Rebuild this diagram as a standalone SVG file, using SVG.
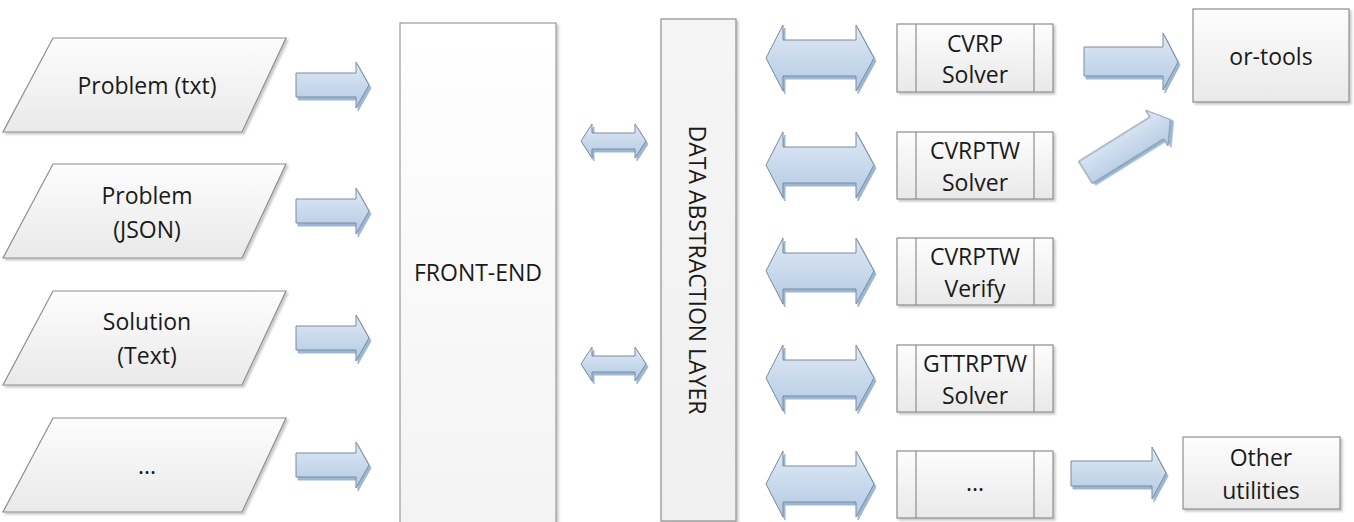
<svg xmlns="http://www.w3.org/2000/svg" width="1354" height="522" viewBox="0 0 1354 522">
<defs>
<linearGradient id="gBox" x1="0" y1="0" x2="0" y2="1">
<stop offset="0" stop-color="#fdfdfd"/><stop offset="1" stop-color="#e9e9e9"/>
</linearGradient>
<linearGradient id="gTall" x1="0" y1="0" x2="0" y2="1">
<stop offset="0" stop-color="#ffffff"/><stop offset="1" stop-color="#f3f3f3"/>
</linearGradient>
<linearGradient id="gDal" x1="0" y1="0" x2="0" y2="1">
<stop offset="0" stop-color="#f5f5f5"/><stop offset="1" stop-color="#f0f0f0"/>
</linearGradient>
<linearGradient id="gArrow" x1="0" y1="0" x2="0" y2="1">
<stop offset="0" stop-color="#dfe9f5"/><stop offset="1" stop-color="#b3cae3"/>
</linearGradient>
<filter id="shBox" x="-10%" y="-10%" width="130%" height="130%">
<feDropShadow dx="2" dy="2" stdDeviation="1.2" flood-color="#000" flood-opacity="0.22"/>
</filter>
<filter id="shArrow" x="-20%" y="-30%" width="150%" height="170%">
<feDropShadow dx="2" dy="3" stdDeviation="0.6" flood-color="#8fb0d2" flood-opacity="0.9"/>
</filter>
</defs>
<style>
.box{fill:url(#gBox);stroke:#8e8e8e;stroke-width:1.2;filter:url(#shBox)}
.tall{fill:url(#gTall);stroke:#9a9a9a;stroke-width:1.2;filter:url(#shBox)}
.dal{fill:url(#gDal);stroke:#8e8e8e;stroke-width:1.2;filter:url(#shBox)}
.div{stroke:#8e8e8e;stroke-width:1.2}
.arr{fill:url(#gArrow);stroke:#7d8a99;stroke-width:1;filter:url(#shArrow)}
text{font-family:"Open Sans","Liberation Sans",sans-serif;font-size:23px;fill:#1a1a1a;text-anchor:middle;dominant-baseline:central}
</style>
<rect width="1354" height="522" fill="#ffffff"/>

<g id="in-txt"><polygon class="box" points="53,38 286,38 242,132 3,132"/><text x="147" y="85">Problem (txt)</text></g>
<g id="in-json"><polygon class="box" points="53,164 286,164 242,258 3,258"/><text x="147" y="195">Problem</text><text x="147" y="229">(JSON)</text></g>
<g id="in-sol"><polygon class="box" points="53,291 286,291 242,385 3,385"/><text x="147" y="321">Solution</text><text x="147" y="355">(Text)</text></g>
<g id="in-more"><polygon class="box" points="53,418 286,418 242,512 3,512"/><text x="147" y="465">...</text></g>

<g id="front-end"><rect class="tall" x="400" y="23" width="156" height="510"/><text x="478" y="272" font-size="21">FRONT-END</text></g>
<g id="dal"><rect class="dal" x="661" y="19" width="75" height="502"/><text transform="translate(698,270) rotate(90)" font-size="22">DATA ABSTRACTION LAYER</text></g>

<g id="cvrp"><rect class="box" x="897" y="24" width="156" height="68"/><line class="div" x1="916" y1="24" x2="916" y2="92"/><line class="div" x1="1034" y1="24" x2="1034" y2="92"/><text x="975" y="43">CVRP</text><text x="975" y="74">Solver</text></g>
<g id="cvrptw"><rect class="box" x="897" y="132" width="156" height="67"/><line class="div" x1="916" y1="132" x2="916" y2="199"/><line class="div" x1="1034" y1="132" x2="1034" y2="199"/><text x="975" y="150">CVRPTW</text><text x="975" y="182">Solver</text></g>
<g id="verify"><rect class="box" x="897" y="238" width="156" height="67"/><line class="div" x1="916" y1="238" x2="916" y2="305"/><line class="div" x1="1034" y1="238" x2="1034" y2="305"/><text x="975" y="256">CVRPTW</text><text x="975" y="288">Verify</text></g>
<g id="gttrptw"><rect class="box" x="897" y="345" width="156" height="67"/><line class="div" x1="916" y1="345" x2="916" y2="412"/><line class="div" x1="1034" y1="345" x2="1034" y2="412"/><text x="975" y="363">GTTRPTW</text><text x="975" y="395">Solver</text></g>
<g id="more-solver"><rect class="box" x="897" y="451" width="156" height="67"/><line class="div" x1="916" y1="451" x2="916" y2="518"/><line class="div" x1="1034" y1="451" x2="1034" y2="518"/><text x="975" y="482">...</text></g>

<g id="or-tools"><rect class="box" x="1193" y="9" width="156" height="93"/><text x="1271" y="56">or-tools</text></g>
<g id="other"><rect class="box" x="1183" y="437" width="157" height="72"/><text x="1261" y="457">Other</text><text x="1261" y="490">utilities</text></g>

<g id="connectors">
<path class="arr" d="M296,73H356V62L369,85L356,108V97H296Z"/>
<path class="arr" d="M296,199H356V188L369,211L356,234V223H296Z"/>
<path class="arr" d="M296,326H356V315L369,338L356,361V350H296Z"/>
<path class="arr" d="M296,453H356V442L369,465L356,488V477H296Z"/>

<path class="arr" d="M581,141L592,124V133H635V124L646,141L635,158V149H592V158Z"/>
<path class="arr" d="M581,364L592,347V356H635V347L646,364L635,381V372H592V381Z"/>

<path class="arr" d="M766,58L783,25V40H856V25L874,58L856,91V76H783V91Z"/>
<path class="arr" d="M766,165L783,132V147H856V132L874,165L856,198V183H783V198Z"/>
<path class="arr" d="M766,271L783,238V253H856V238L874,271L856,304V289H783V304Z"/>
<path class="arr" d="M766,378L783,345V360H856V345L874,378L856,411V396H783V411Z"/>
<path class="arr" d="M766,484L783,451V466H856V451L874,484L856,517V502H783V517Z"/>

<path class="arr" d="M1084,47H1163V33L1178,62L1163,90V76H1084Z"/>
<path class="arr" transform="translate(1085.5,172.5) rotate(-32)" d="M0,-13H84V-21L100,0L84,21V13H0Z"/>
<path class="arr" d="M1071,461H1152V447L1166,473L1152,499V486H1071Z"/>
</g>
</svg>
